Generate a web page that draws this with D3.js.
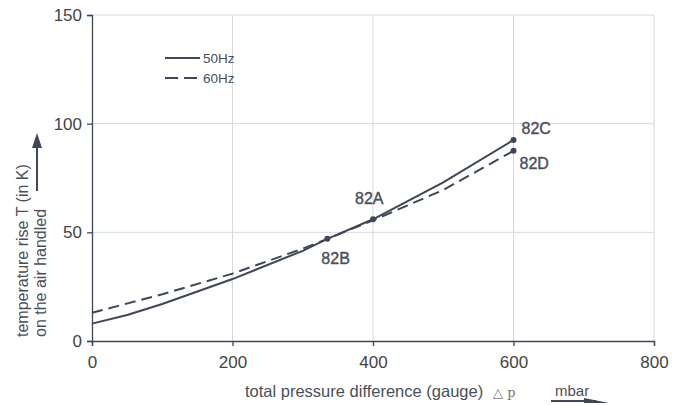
<!DOCTYPE html>
<html>
<head>
<meta charset="utf-8">
<script src="https://cdn.jsdelivr.net/npm/d3@7"></script>
<style>
  body { margin: 0; background: #fff; }
  svg { display: block; font-family: "Liberation Sans", Arial, sans-serif; }
</style>
</head>
<body>
<svg width="684" height="405"></svg>
<script>
// pressure (mbar) vs temperature rise (K)
const p50 = [0, 50, 100, 200, 300, 335, 400, 500, 600];
const t50 = [8, 12, 17, 28.5, 41.5, 47, 56, 73, 92.5];
const p60 = [0, 100, 200, 300, 335, 400, 500, 600];
const t60 = [13, 21.5, 31, 42.5, 47, 55.5, 69.5, 87.5];

const xTicks = [0, 200, 400, 600, 800];
const yTicks = [0, 50, 100, 150];

// labelled operating points
const marks = [
  {name: "82A", p: 400, t: 56},
  {name: "82B", p: 335, t: 47},
  {name: "82C", p: 600, t: 92.5},
  {name: "82D", p: 600, t: 87.5}
];

const ink = "#3f4657";
const grid = "#d9d9d9";
const txt = "#4a4f5a";

const svg = d3.select("svg");
const x = d3.scaleLinear().domain([0, 800]).range([92, 654]);
const y = d3.scaleLinear().domain([0, 150]).range([341, 15]);

// grid
svg.append("g").selectAll("line.v").data(xTicks.slice(1)).join("line")
  .attr("x1", d => x(d)).attr("x2", d => x(d))
  .attr("y1", y(150)).attr("y2", y(0))
  .attr("stroke", grid).attr("stroke-width", 1);
svg.append("g").selectAll("line.h").data(yTicks.slice(1)).join("line")
  .attr("x1", x(0)).attr("x2", x(800))
  .attr("y1", d => y(d)).attr("y2", d => y(d))
  .attr("stroke", grid).attr("stroke-width", 1);

// axes
const xAxis = svg.append("g").attr("transform", `translate(0,${y(0)})`)
  .call(d3.axisBottom(x).tickValues(xTicks).tickSize(5).tickPadding(10));
const yAxis = svg.append("g").attr("transform", `translate(${x(0)},0)`)
  .call(d3.axisLeft(y).tickValues(yTicks).tickSize(5).tickPadding(5));
for (let a of [xAxis, yAxis]) {
  a.select(".domain").attr("stroke", ink).attr("stroke-width", 1.3);
  a.selectAll(".tick line").attr("stroke", ink).attr("stroke-width", 1.3);
  a.selectAll(".tick text").attr("fill", "#444").attr("font-size", 17)
    .attr("font-family", "Liberation Sans, Arial, sans-serif");
}

// curves
const line = d3.line().x(d => x(d[0])).y(d => y(d[1]));
svg.append("path").datum(d3.zip(p50, t50))
  .attr("d", line).attr("fill", "none")
  .attr("stroke", ink).attr("stroke-width", 2);
svg.append("path").datum(d3.zip(p60, t60))
  .attr("d", line).attr("fill", "none")
  .attr("stroke", ink).attr("stroke-width", 2)
  .attr("stroke-dasharray", "11,6");

// points and labels
svg.append("g").selectAll("circle").data(marks).join("circle")
  .attr("cx", d => x(d.p)).attr("cy", d => y(d.t)).attr("r", 3)
  .attr("fill", ink);
const labelPos = {
  "82A": [-18, -21], "82B": [-6, 20], "82C": [8, -12], "82D": [6, 13]
};
svg.append("g").selectAll("text").data(marks).join("text")
  .attr("x", d => x(d.p) + labelPos[d.name][0])
  .attr("y", d => y(d.t) + labelPos[d.name][1])
  .attr("dy", "0.35em")
  .attr("font-size", 16).attr("fill", txt)
  .attr("stroke", txt).attr("stroke-width", 0.4)
  .text(d => d.name);

// legend
const legend = [["50Hz", null, 58], ["60Hz", "13,6", 78]];
for (let [lab, dash, ly] of legend) {
  svg.append("line").attr("x1", 165).attr("x2", 200).attr("y1", ly).attr("y2", ly)
    .attr("stroke", ink).attr("stroke-width", 2)
    .attr("stroke-dasharray", dash);
  svg.append("text").attr("x", 203).attr("y", ly).attr("dy", "0.35em")
    .attr("font-size", 13.5).attr("fill", txt).text(lab);
}

// y label
const yl = svg.append("g").attr("fill", txt).attr("font-size", 16);
yl.append("text").attr("transform", "translate(28,337) rotate(-90)")
  .text("temperature rise T (in K)");
yl.append("text").attr("transform", "translate(46,337) rotate(-90)")
  .text("on the air handled");
svg.append("line").attr("x1", 37).attr("x2", 37).attr("y1", 191).attr("y2", 145)
  .attr("stroke", ink).attr("stroke-width", 2);
svg.append("path").attr("d", "M37,133 L32,148 L42,148 Z").attr("fill", ink);

// x label
svg.append("text").attr("x", 245).attr("y", 397)
  .attr("font-size", 16.5).attr("fill", txt)
  .text("total pressure difference (gauge)");
svg.append("text").attr("x", 493).attr("y", 397)
  .attr("font-size", 13).attr("fill", "#777")
  .attr("font-family", "DejaVu Serif, serif")
  .text("\u25B3 p");
svg.append("text").attr("x", 555).attr("y", 396)
  .attr("font-size", 15).attr("fill", txt).text("mbar");
svg.append("path").attr("d", "M551,401 L596,401").attr("stroke", ink).attr("stroke-width", 2);
svg.append("path").attr("d", "M584,398 L609,403 L584,403 Z").attr("fill", ink);
</script>
</body>
</html>
